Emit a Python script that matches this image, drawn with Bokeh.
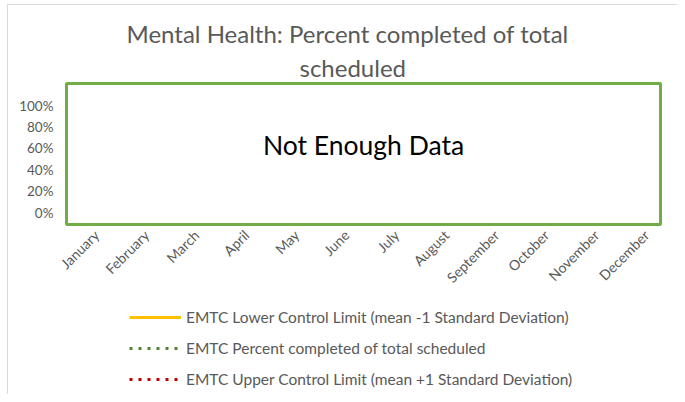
from bokeh.plotting import figure
from bokeh.models import (Range1d, FixedTicker, NumeralTickFormatter, Label,
                          Legend, LegendItem, ColumnDataSource, Title)
from bokeh.layouts import column
from bokeh.embed import file_html
from bokeh.resources import INLINE
import math

nan = float("nan")

months = ["January", "February", "March", "April", "May", "June", "July",
          "August", "September", "October", "November", "December"]
lower_limit = [nan, nan, nan, nan, nan, nan, nan, nan, nan, nan, nan, nan]
percent_completed = [nan, nan, nan, nan, nan, nan, nan, nan, nan, nan, nan, nan]
upper_limit = [nan, nan, nan, nan, nan, nan, nan, nan, nan, nan, nan, nan]
y_ticks = [0, 0.2, 0.4, 0.6, 0.8, 1.0]
title_lines = ["Mental Health: Percent completed of total", "scheduled"]
series_names = ["EMTC Lower Control Limit (mean -1 Standard Deviation)",
                "EMTC Percent completed of total scheduled",
                "EMTC Upper Control Limit (mean +1 Standard Deviation)"]

FONT = "Lato"
GRAY = "#595959"
W = 677

idx = list(range(len(months)))
src = ColumnDataSource(dict(x=idx, lower=lower_limit, pct=percent_completed, upper=upper_limit))

p = figure(width=W, height=295, output_backend="svg", toolbar_location=None,
           x_range=Range1d(-0.6, 11.28), y_range=Range1d(-0.112, 1.206),
           min_border_left=66, min_border_right=17, min_border_top=83,
           min_border_bottom=71)

def style_title(t, off, standoff):
    t.align = "left"
    t.text_font = FONT
    t.text_font_size = "24px"
    t.text_font_style = "normal"
    t.text_color = GRAY
    t.offset = off
    t.standoff = standoff

p.title.text = title_lines[0]
style_title(p.title, 60, 2)
t2 = Title(text=title_lines[1])
style_title(t2, 233, 4)
p.add_layout(t2, "above")

p.outline_line_color = "#70AD47"
p.outline_line_width = 3
p.xgrid.visible = False
p.ygrid.visible = False
p.background_fill_color = "white"
p.border_fill_alpha = 0

p.yaxis.ticker = FixedTicker(ticks=y_ticks)
p.yaxis.formatter = NumeralTickFormatter(format="0%")
p.yaxis.axis_line_color = None
p.yaxis.major_tick_line_color = None
p.yaxis.minor_tick_line_color = None
p.yaxis.major_label_text_font = FONT
p.yaxis.major_label_text_font_size = "13.5px"
p.yaxis.major_label_text_color = GRAY
p.yaxis.major_label_standoff = 7

p.xaxis.ticker = FixedTicker(ticks=idx)
p.xaxis.major_label_overrides = {i: m for i, m in enumerate(months)}
p.xaxis.major_label_orientation = math.pi / 4
p.xaxis.axis_line_color = None
p.xaxis.major_tick_line_color = None
p.xaxis.minor_tick_line_color = None
p.xaxis.major_label_text_font = FONT
p.xaxis.major_label_text_font_size = "14px"
p.xaxis.major_label_text_color = GRAY
p.xaxis.major_label_standoff = 2

styles = [dict(line_color="#FFC000", line_width=3),
          dict(line_color="#548235", line_width=3, line_dash="3 6"),
          dict(line_color="#C00000", line_width=3, line_dash="3 6")]
cols = ["lower", "pct", "upper"]
for c, s in zip(cols, styles):
    p.line("x", c, source=src, **s)

nd = Label(x=297, y=80, x_units="screen", y_units="screen", text="Not Enough Data",
           text_align="center", text_baseline="middle", text_font=FONT,
           text_font_size="26.5px", text_color="black")
p.add_layout(nd)

# legend panel below the chart
p2 = figure(width=W, height=99, output_backend="svg", toolbar_location=None,
            x_range=Range1d(-0.6, 11.28), y_range=Range1d(0, 1),
            min_border_left=0, min_border_right=0, min_border_top=0,
            min_border_bottom=0)
p2.axis.visible = False
p2.grid.visible = False
p2.outline_line_color = None
p2.border_fill_alpha = 0
p2.background_fill_alpha = 0
rs = [p2.line("x", c, source=src, **s) for c, s in zip(cols, styles)]

legend = Legend(items=[LegendItem(label=n, renderers=[r]) for n, r in zip(series_names, rs)],
                location=(63, 5))
legend.label_text_font = FONT
legend.label_text_font_size = "15.5px"
legend.label_text_color = GRAY
legend.glyph_width = 52
legend.glyph_height = 20
legend.label_height = 20
legend.label_standoff = 5
legend.spacing = 11
legend.padding = 0
legend.margin = 0
legend.border_line_color = None
legend.background_fill_alpha = 0
p2.add_layout(legend, "center")

layout = column(p, p2, spacing=0)
layout.styles = {
    "background": "linear-gradient(#d9d9d9,#d9d9d9) 7px 4px / 1px 100% no-repeat, "
                  "linear-gradient(#d9d9d9,#d9d9d9) 7px 4px / 100% 1px no-repeat, white"
}
open("out.html", "w").write(file_html(layout, INLINE))
